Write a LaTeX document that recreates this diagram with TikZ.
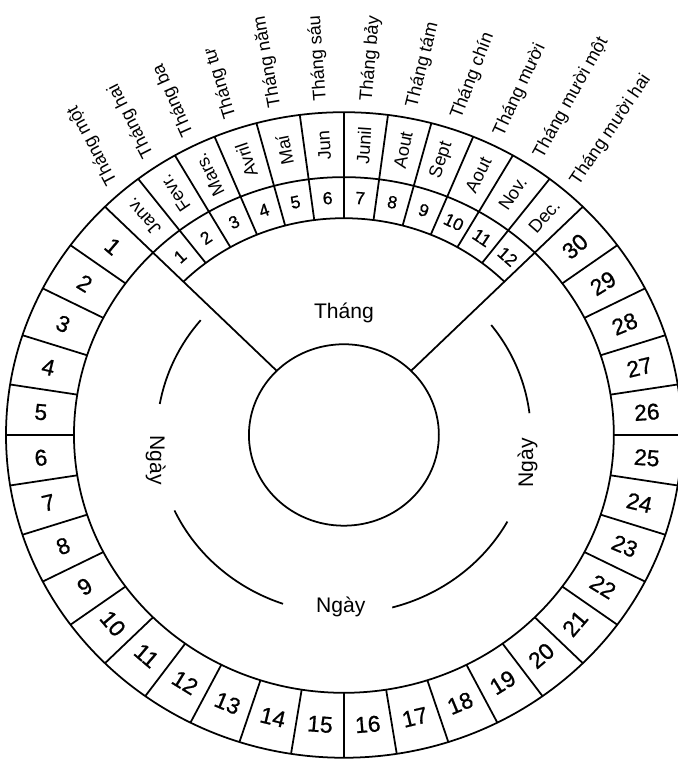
\documentclass[tikz,border=0pt]{standalone}
\usepackage{fontspec}
\setmainfont{Liberation Sans}
\newfontfamily\thickfont[FakeBold=0.8]{Liberation Sans}
\usetikzlibrary{positioning}
\newcommand{\rOut}{338}
\newcommand{\rMid}{270}
\newcommand{\rIn}{227}
\newcommand{\rCore}{95}
\newcommand{\rLab}{187}
\tikzset{
  ring/.style={line width=1.5pt, color=black},
  daynum/.style={font=\thickfont\fontsize{19.5}{22}\selectfont, inner sep=0pt},
  monthnum/.style={font=\thickfont\fontsize{15}{17}\selectfont, inner sep=0pt},
  monthname/.style={font=\fontsize{15.5}{17}\selectfont, inner sep=0pt},
  monthvn/.style={font=\fontsize{15.5}{17}\selectfont, anchor=west, inner sep=0pt},
  ringlabel/.style={font=\fontsize{18}{20}\selectfont, inner sep=1pt}
}
\begin{document}
\begin{tikzpicture}[x=0.03cm, y=0.02865cm]
  \useasboundingbox (0,0) rectangle (678,796.9);
  \begin{scope}[shift={(344,341.4)}]
  % rings
  \draw[ring] (0,0) circle[radius=\rOut];
  \draw[ring] (0,0) circle[radius=\rMid];
  \draw[ring] (0,0) circle[radius=\rCore];
  \draw[ring] (45:\rIn) arc[start angle=45, end angle=135, radius=\rIn];
  % the two long spokes
  \draw[ring] (45:\rCore) -- (45:\rOut);
  \draw[ring] (135:\rCore) -- (135:\rOut);
  % day cells
  \foreach \d in {1,...,29}
    \draw[ring] ({135+9*\d}:\rMid) -- ({135+9*\d}:\rOut);
  \foreach \d in {1,...,30}{
    \pgfmathsetmacro\ang{130.5+9*\d}
    \pgfmathsetmacro\tilt{\ang-270+90*(\ang<216)-90*(\ang>324)}
    \node[daynum, rotate=\tilt] (day\d) at (\ang:304) {\d};
  }
  % month cells
  \foreach \m in {1,...,11}
    \draw[ring] ({135-7.5*\m}:\rIn) -- ({135-7.5*\m}:\rOut);
  \foreach \m/\name in {1/Janv.,2/Fevr.,3/Mars.,4/Avril,5/Maí,6/Jun,
                        7/Junil,8/Aout,9/Sept,10/Aout,11/Nov.,12/Dec.}{
    \pgfmathsetmacro\ang{138.75-7.5*\m}
    \node[monthnum, rotate=\ang-90] (mnum\m) at (\ang:248.5) {\m};
    \node[monthname, rotate=\ang] (mname\m) at (\ang:304) {\name};
  }
  % vietnamese month names outside
  \foreach \m/\tilt/\name in {1/118/Tháng một,2/117/Tháng hai,3/114/Tháng ba,
      4/107/Tháng tư,5/100/Tháng năm,6/94/Tháng sáu,7/85/Tháng bảy,
      8/76/Tháng tám,9/69/Tháng chín,10/65/Tháng mười,
      11/61/Tháng mười một,12/56/Tháng mười hai}{
    \pgfmathsetmacro\ang{138.75-7.5*\m}
    \node[monthvn, rotate=\tilt] (mvn\m) at (\ang:350) {\name};
  }
  % inner labels
  \node[ringlabel] (thang) at (90:128) {Tháng};
  \draw[ring] (140:\rLab) arc[start angle=140, end angle=170, radius=\rLab];
  \draw[ring] (205:\rLab) arc[start angle=205, end angle=251, radius=\rLab];
  \draw[ring] (285:\rLab) arc[start angle=285, end angle=331, radius=\rLab];
  \draw[ring] (7:\rLab) arc[start angle=7, end angle=38, radius=\rLab];
  \node[ringlabel, rotate=-90] (ngayL) at (188:190) {Ngày};
  \node[ringlabel] (ngayB) at (269:180) {Ngày};
  \node[ringlabel, rotate=90] (ngayR) at (351:186) {Ngày};
  \end{scope}
\end{tikzpicture}
\end{document}
